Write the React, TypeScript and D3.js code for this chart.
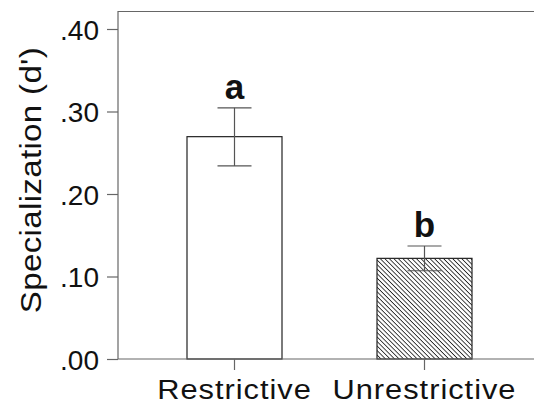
import { useEffect, useRef } from "react"
import * as d3 from "d3"

const categories = ["Restrictive", "Unrestrictive"]
const means = [0.2695, 0.122]
const errLow = [0.234, 0.107]
const errHigh = [0.3045, 0.137]
const letters = ["a", "b"]
const yTicks = [0, 0.1, 0.2, 0.3, 0.4]

const W = 534
const H = 406
const FONT = "Liberation Sans, Arial, sans-serif"

const App = () => {
  const ref = useRef<SVGSVGElement>(null)

  useEffect(() => {
    const svg = d3.select(ref.current)
    svg.selectAll("*").remove()

    const left = 118, top = 11, bottom = 359, right = 534
    const y = d3.scaleLinear().domain([0, 0.4]).range([bottom, 29])
    const x = d3.scaleBand().domain(categories).range([187, 472]).paddingInner(0.5).paddingOuter(0)
    const cx = (c: string) => x(c)! + x.bandwidth() / 2

    const defs = svg.append("defs")
    const pat = defs.append("pattern")
      .attr("id", "hatch")
      .attr("patternUnits", "userSpaceOnUse")
      .attr("width", 3.2)
      .attr("height", 3.2)
      .attr("patternTransform", "rotate(45)")
    pat.append("rect").attr("width", 3.2).attr("height", 3.2).attr("fill", "white")
    pat.append("line")
      .attr("x1", 0).attr("y1", 0).attr("x2", 3.2).attr("y2", 0)
      .attr("stroke", "#222").attr("stroke-width", 1.7)

    const data = categories.map((c, i) => ({ c, m: means[i], lo: errLow[i], hi: errHigh[i], l: letters[i] }))

    // top frame line
    svg.append("line").attr("x1", left).attr("x2", right).attr("y1", top + 0.5).attr("y2", top + 0.5)
      .attr("stroke", "#666").attr("stroke-width", 1.2)

    svg.selectAll(".bar")
      .data(data)
      .join("rect")
      .attr("x", d => x(d.c)!)
      .attr("y", d => y(d.m))
      .attr("width", x.bandwidth())
      .attr("height", d => y(0) - y(d.m))
      .attr("fill", (d, i) => i === 0 ? "white" : "url(#hatch)")
      .attr("stroke", "#222")
      .attr("stroke-width", 1.2)

    const eb = svg.append("g").attr("stroke", "#555").attr("stroke-width", 1.2)
    data.forEach(d => {
      const c = cx(d.c)
      eb.append("line").attr("x1", c).attr("x2", c).attr("y1", y(d.hi)).attr("y2", y(d.lo))
      eb.append("line").attr("x1", c - 17).attr("x2", c + 17).attr("y1", y(d.hi)).attr("y2", y(d.hi))
      eb.append("line").attr("x1", c - 17).attr("x2", c + 17).attr("y1", y(d.lo)).attr("y2", y(d.lo))
    })

    svg.selectAll(".letter")
      .data(data)
      .join("text")
      .attr("x", d => cx(d.c))
      .attr("y", d => y(d.hi) - 8.5)
      .attr("text-anchor", "middle")
      .attr("font-family", FONT)
      .attr("font-weight", "bold")
      .attr("font-size", 35)
      .attr("fill", "#111")
      .text(d => d.l)

    // y axis
    const ya = svg.append("g").attr("transform", `translate(${left},0)`)
      .call(d3.axisLeft(y).tickValues(yTicks).tickSize(11).tickFormat(d => d3.format(".2f")(d as number).replace(/^0/, "")))
    ya.select(".domain").attr("d", `M0,${top}V${bottom}`).attr("stroke", "#666").attr("stroke-width", 1.2)
    ya.selectAll(".tick line").attr("stroke", "#666").attr("stroke-width", 1.2)
    ya.selectAll(".tick text")
      .attr("font-family", FONT)
      .attr("font-size", 28)
      .attr("fill", "#111")
      .attr("x", -19)
      .attr("dy", "0.36em")

    // x axis
    const xa = svg.append("g").attr("transform", `translate(0,${bottom})`)
      .call(d3.axisBottom(x).tickSize(11).tickPadding(9))
    xa.select(".domain").attr("d", `M${left},0H${right}`).attr("stroke", "#666").attr("stroke-width", 1.2)
    xa.selectAll(".tick line").attr("stroke", "#666").attr("stroke-width", 1.2)
    xa.selectAll(".tick text")
      .attr("font-family", FONT)
      .attr("font-size", 28)
      .attr("letter-spacing", 0.9)
      .attr("transform", "scale(1.1,1)")
      .attr("fill", "#111")

    svg.append("text")
      .attr("transform", `translate(41,180) rotate(-90) scale(1.14,1)`)
      .attr("text-anchor", "middle")
      .attr("font-family", FONT)
      .attr("font-size", 29)
      .attr("letter-spacing", 0.3)
      .attr("fill", "#111")
      .text("Specialization (d')")
  }, [])

  return (
    <svg ref={ref} width={W} height={H} style={{ position: "absolute", left: 0, top: 0, background: "white" }} />
  )
}

export default App
